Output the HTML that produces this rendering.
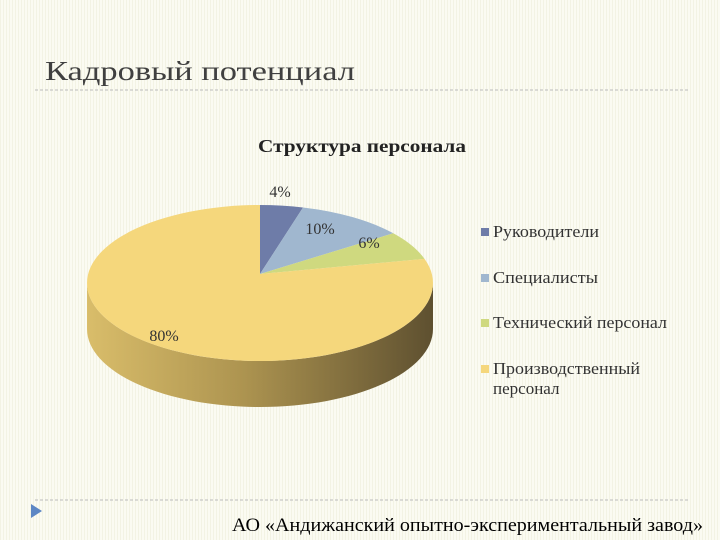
<!DOCTYPE html>
<html><head><meta charset="utf-8"><style>
body{margin:0;}
#wrap{width:720px;height:540px;position:relative;overflow:hidden;background:#fbfbf2;
background-image:repeating-linear-gradient(90deg,#f3f3e4 0,#f3f3e4 1px,transparent 1px,transparent 3px);
font-family:"Liberation Serif","Noto Serif CJK SC",serif;}
</style></head><body>
<div id="wrap">
<svg width="720" height="540">
<defs>
<linearGradient id="side" x1="0" x2="1" y1="0" y2="0">
<stop offset="0" stop-color="#d9bd6a"/><stop offset="0.45" stop-color="#ad9450"/><stop offset="1" stop-color="#5e5030"/>
</linearGradient>
</defs>
<text x="45" y="80" font-size="27" fill="#404040" textLength="310" lengthAdjust="spacingAndGlyphs">Кадровый потенциал</text>
<line x1="35" y1="90" x2="690" y2="90" stroke="#bbb" stroke-dasharray="3,2"/>
<line x1="35" y1="500" x2="690" y2="500" stroke="#bbb" stroke-dasharray="3,2"/>
<polygon points="31,504 31,518 42,511" fill="#5d87c4"/>
<text x="232" y="531" font-size="19" fill="#000" textLength="471" lengthAdjust="spacingAndGlyphs">АО «Андижанский опытно-экспериментальный завод»</text>
<text x="258" y="152" font-size="18" font-weight="bold" fill="#222" textLength="208" lengthAdjust="spacingAndGlyphs">Структура персонала</text>
<g id="pie"></g>
<g id="legend"></g>
</svg>
</div>
<script>
const categories=["Руководители","Специалисты","Технический персонал","Производственный персонал"];
const values=[4,10,6,80];
const labels=["4%","10%","6%","80%"];
const colors=["#6e7ca8","#a0b7cf","#cfd97f","#f5d77c"];
const NS="http://www.w3.org/2000/svg";
const cx=260,cy=283,rx=173,ry=78,depth=46,ax=260,ay=274;
const pie=document.getElementById('pie');
function pt(a){return [cx+rx*Math.sin(a),cy-ry*Math.cos(a)];}
const side=document.createElementNS(NS,'path');
side.setAttribute('d',`M${cx-rx},${cy} A${rx},${ry} 0 0 0 ${cx+rx},${cy} L${cx+rx},${cy+depth} A${rx},${ry} 0 0 1 ${cx-rx},${cy+depth} Z`);
side.setAttribute('fill','url(#side)');


pie.appendChild(side);
const total=values.reduce((a,b)=>a+b,0);
let acc=0;
const labelPos=[[280,197],[320,234],[369,248],[164,341]];
values.forEach((v,i)=>{
  const a0=acc/total*2*Math.PI; acc+=v; const a1=acc/total*2*Math.PI;
  const p0=pt(a0),p1=pt(a1);
  const large=(a1-a0)>Math.PI?1:0;
  const p=document.createElementNS(NS,'path');
  p.setAttribute('d',`M${ax},${ay} L${p0[0]},${p0[1]} A${rx},${ry} 0 ${large} 1 ${p1[0]},${p1[1]} Z`);
  p.setAttribute('fill',colors[i]);
  
  
  pie.appendChild(p);
  const t=document.createElementNS(NS,'text');
  t.setAttribute('x',labelPos[i][0]);t.setAttribute('y',labelPos[i][1]);
  t.setAttribute('text-anchor','middle');t.setAttribute('font-size','16');t.setAttribute('fill','#333');
  t.textContent=labels[i];
  
  
  pie.appendChild(t);
});
const lg=document.getElementById('legend');
const ly=[232,278,323,369];
const lw=[106,105,174,147];
categories.forEach((c,i)=>{
  const r=document.createElementNS(NS,'rect');
  r.setAttribute('x',481);r.setAttribute('y',ly[i]-4);r.setAttribute('width',8);r.setAttribute('height',8);r.setAttribute('fill',colors[i]);
  
  
  lg.appendChild(r);
  const t=document.createElementNS(NS,'text');
  t.setAttribute('x',493);t.setAttribute('y',ly[i]+5);t.setAttribute('font-size','17');t.setAttribute('fill','#333');
  
  
  if(i===3){
    const w=c.split(' ');
    const s1=document.createElementNS(NS,'tspan');s1.setAttribute('x',493);s1.setAttribute('textLength',lw[i]);s1.setAttribute('lengthAdjust','spacingAndGlyphs');s1.textContent=w[0];
    const s2=document.createElementNS(NS,'tspan');s2.setAttribute('x',493);s2.setAttribute('dy',20);s2.textContent=w[1];
    t.appendChild(s1);t.appendChild(s2);
  } else {t.setAttribute('textLength',lw[i]);t.setAttribute('lengthAdjust','spacingAndGlyphs');t.textContent=c;}
  lg.appendChild(t);
});
</script>
</body></html>
